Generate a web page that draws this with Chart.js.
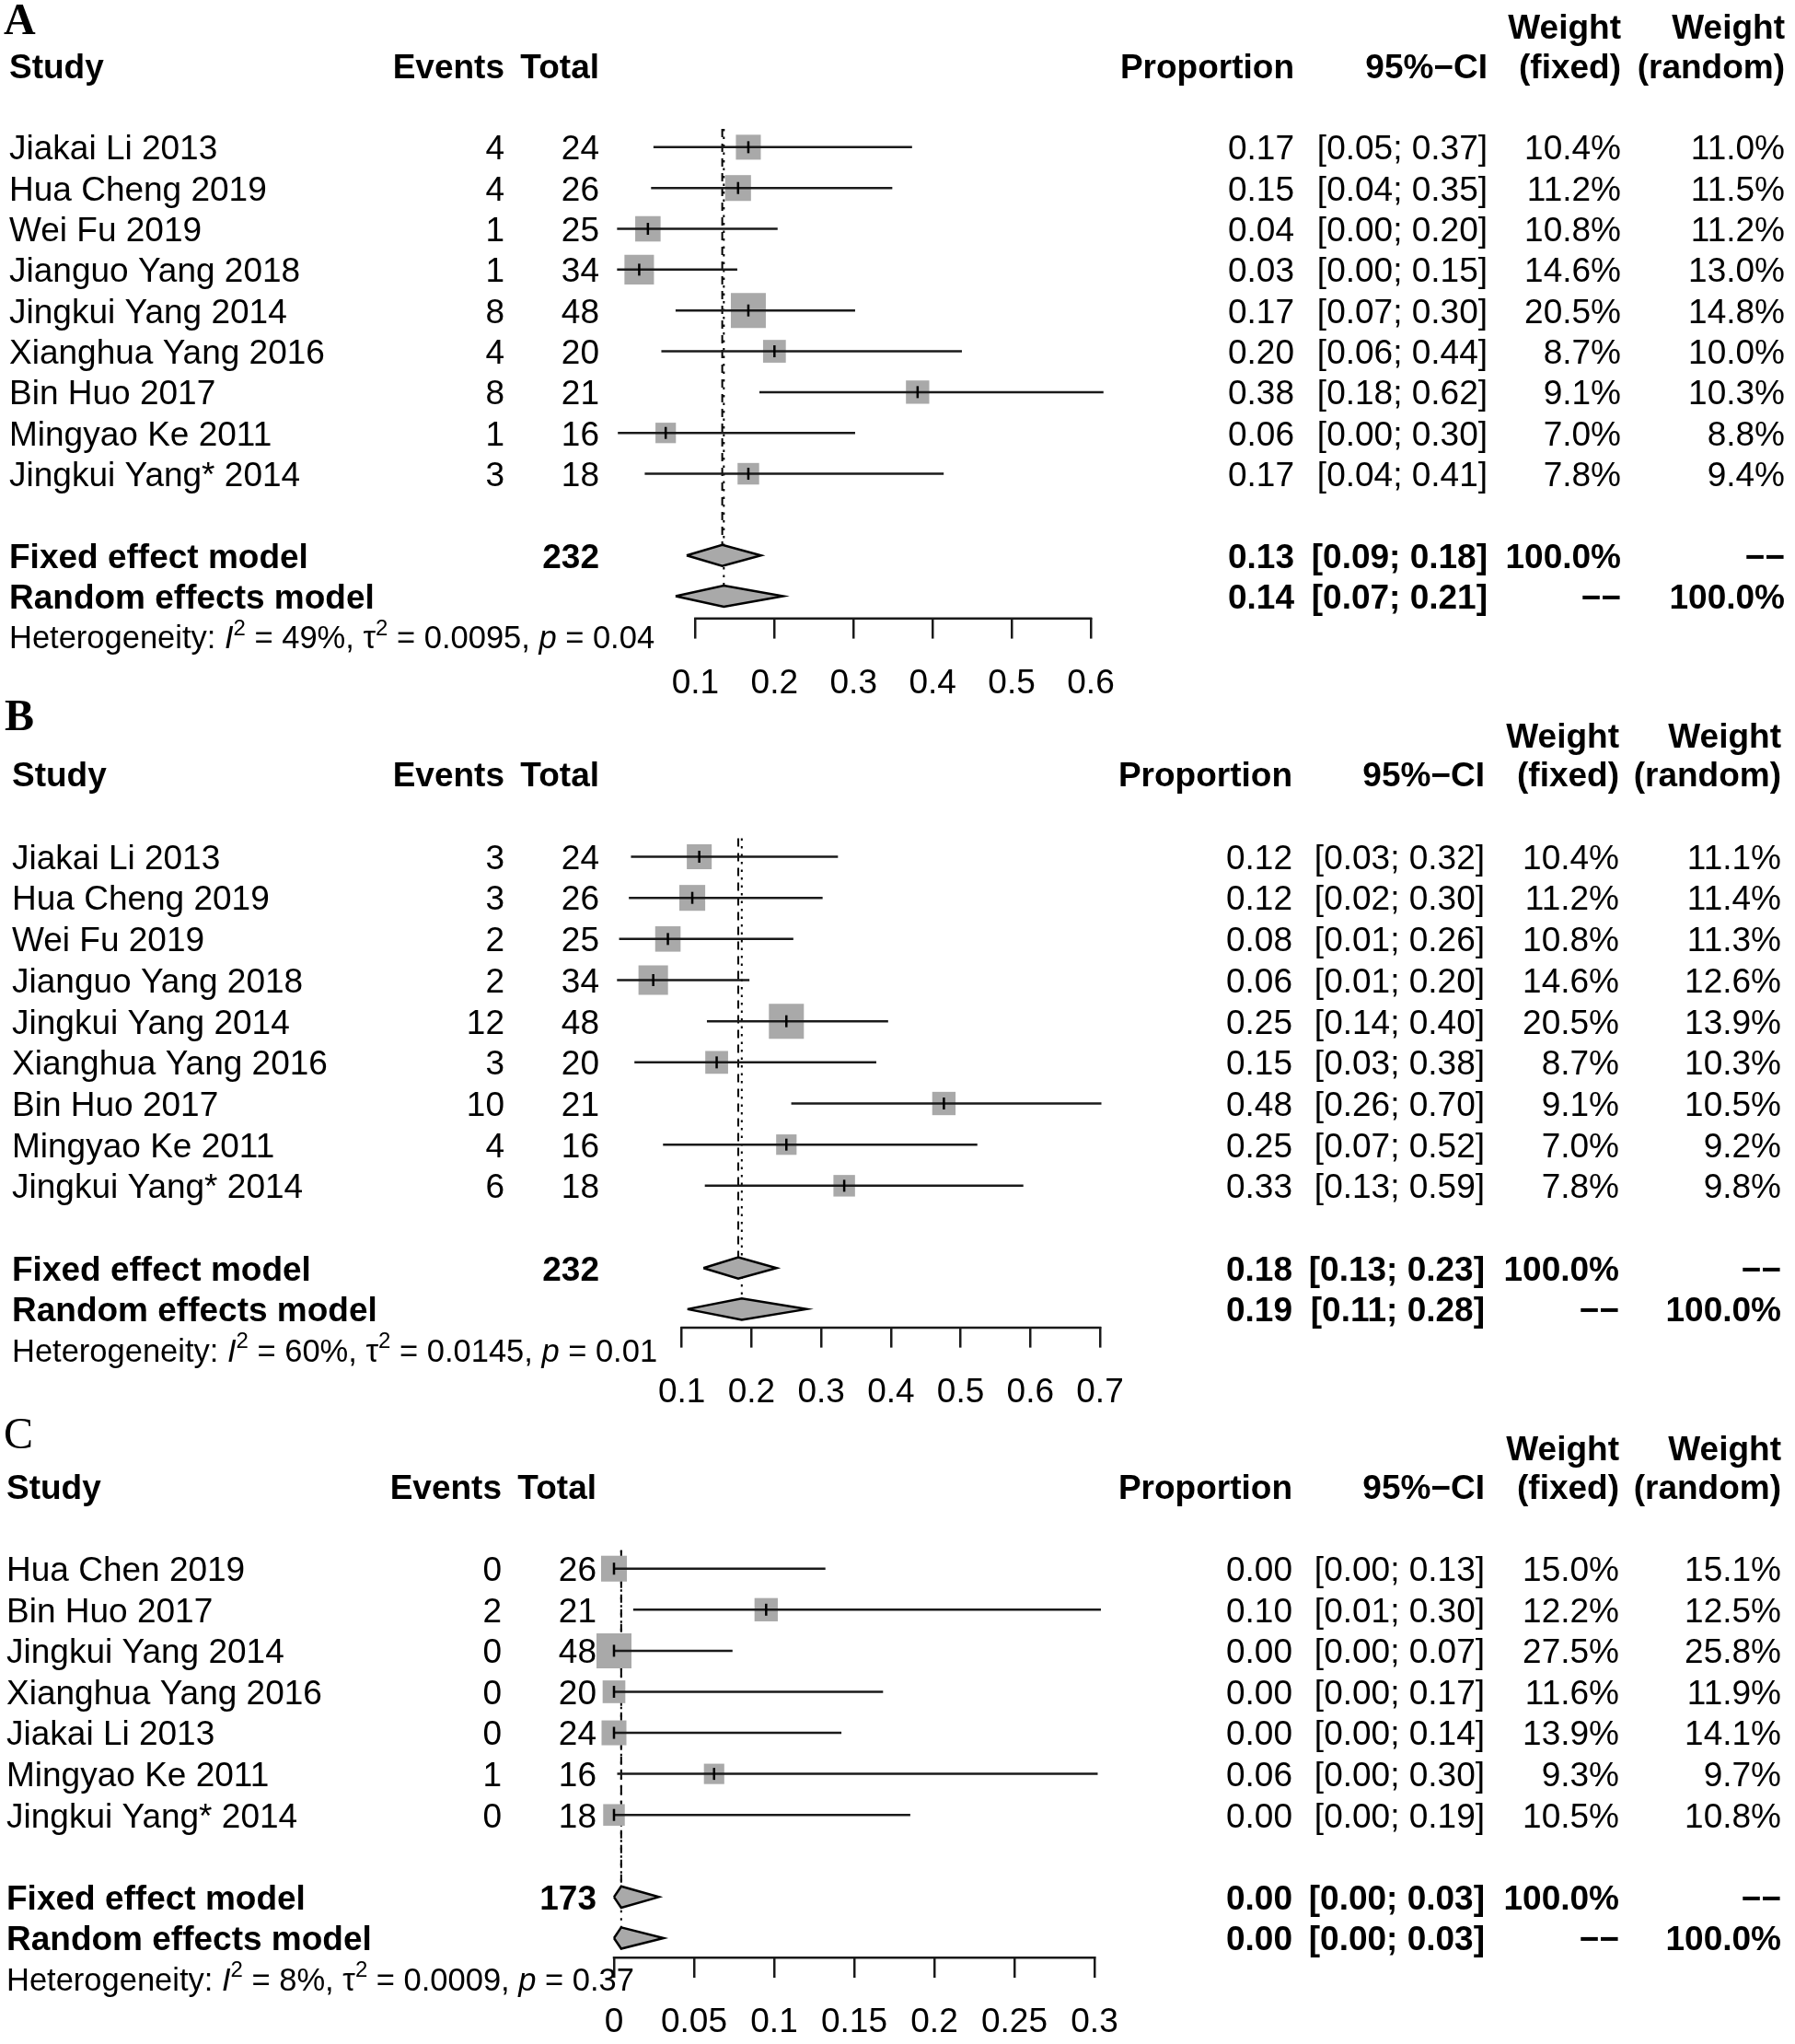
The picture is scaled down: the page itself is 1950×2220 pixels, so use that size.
<!DOCTYPE html>
<html>
<head>
<meta charset="utf-8">
<script src="https://cdn.jsdelivr.net/npm/chart.js@4.4.1/dist/chart.umd.min.js"></script>
<style>
    html, body { margin: 0; padding: 0; background: #fff; }
    #wrap { position: relative; width: 1950px; height: 2220px; overflow: hidden; }
    canvas { position: absolute; left: 0; }
</style>
</head>
<body>
<div id="wrap">
    <canvas id="panelA" width="1950" height="770" style="top:0px"></canvas>
    <canvas id="panelB" width="1950" height="800" style="top:740px"></canvas>
    <canvas id="panelC" width="1950" height="700" style="top:1520px"></canvas>
</div>
<script>
// ------------------------
// Panel A data
// ------------------------
const studiesA = ["Jiakai Li 2013", "Hua Cheng 2019", "Wei Fu 2019", "Jianguo Yang 2018", "Jingkui Yang 2014",
    "Xianghua Yang 2016", "Bin Huo 2017", "Mingyao Ke 2011", "Jingkui Yang* 2014"];
const eventsA = [4, 4, 1, 1, 8, 4, 8, 1, 3];
const totalsA = [24, 26, 25, 34, 48, 20, 21, 16, 18];
const propTextA = ["0.17", "0.15", "0.04", "0.03", "0.17", "0.20", "0.38", "0.06", "0.17"];
const ciTextA = ["[0.05; 0.37]", "[0.04; 0.35]", "[0.00; 0.20]", "[0.00; 0.15]", "[0.07; 0.30]",
    "[0.06; 0.44]", "[0.18; 0.62]", "[0.00; 0.30]", "[0.04; 0.41]"];
const estA = [0.167, 0.154, 0.040, 0.029, 0.167, 0.200, 0.381, 0.0625, 0.167];
const loA = [0.047, 0.044, 0.001, 0.001, 0.075, 0.057, 0.181, 0.002, 0.036];
const hiA = [0.374, 0.349, 0.204, 0.153, 0.302, 0.437, 0.616, 0.302, 0.414];
const wFixedA = [10.4, 11.2, 10.8, 14.6, 20.5, 8.7, 9.1, 7.0, 7.8];
const wRandomA = [11.0, 11.5, 11.2, 13.0, 14.8, 10.0, 10.3, 8.8, 9.4];
const pooledTotalA = "232";
const pooledPropA = ["0.13", "0.14"];
const pooledCiA = ["[0.09; 0.18]", "[0.07; 0.21]"];
const pooledEstA = [0.134, 0.136];
const pooledLoA = [0.089, 0.075];
const pooledHiA = [0.183, 0.211];
const hetA = ["49%", "0.0095", "0.04"];
const ticksA = [0.1, 0.2, 0.3, 0.4, 0.5, 0.6];

// ------------------------
// Panel B data
// ------------------------
const studiesB = studiesA;
const eventsB = [3, 3, 2, 2, 12, 3, 10, 4, 6];
const totalsB = [24, 26, 25, 34, 48, 20, 21, 16, 18];
const propTextB = ["0.12", "0.12", "0.08", "0.06", "0.25", "0.15", "0.48", "0.25", "0.33"];
const ciTextB = ["[0.03; 0.32]", "[0.02; 0.30]", "[0.01; 0.26]", "[0.01; 0.20]", "[0.14; 0.40]",
    "[0.03; 0.38]", "[0.26; 0.70]", "[0.07; 0.52]", "[0.13; 0.59]"];
const estB = [0.125, 0.115, 0.080, 0.059, 0.250, 0.150, 0.476, 0.250, 0.333];
const loB = [0.027, 0.024, 0.010, 0.007, 0.136, 0.032, 0.257, 0.073, 0.133];
const hiB = [0.324, 0.302, 0.260, 0.197, 0.396, 0.379, 0.702, 0.524, 0.590];
const wFixedB = [10.4, 11.2, 10.8, 14.6, 20.5, 8.7, 9.1, 7.0, 7.8];
const wRandomB = [11.1, 11.4, 11.3, 12.6, 13.9, 10.3, 10.5, 9.2, 9.8];
const pooledTotalB = "232";
const pooledPropB = ["0.18", "0.19"];
const pooledCiB = ["[0.13; 0.23]", "[0.11; 0.28]"];
const pooledEstB = [0.181, 0.186];
const pooledLoB = [0.131, 0.108];
const pooledHiB = [0.236, 0.279];
const hetB = ["60%", "0.0145", "0.01"];
const ticksB = [0.1, 0.2, 0.3, 0.4, 0.5, 0.6, 0.7];

// ------------------------
// Panel C data
// ------------------------
const studiesC = ["Hua Chen 2019", "Bin Huo 2017", "Jingkui Yang 2014", "Xianghua Yang 2016",
    "Jiakai Li 2013", "Mingyao Ke 2011", "Jingkui Yang* 2014"];
const eventsC = [0, 2, 0, 0, 0, 1, 0];
const totalsC = [26, 21, 48, 20, 24, 16, 18];
const propTextC = ["0.00", "0.10", "0.00", "0.00", "0.00", "0.06", "0.00"];
const ciTextC = ["[0.00; 0.13]", "[0.01; 0.30]", "[0.00; 0.07]", "[0.00; 0.17]",
    "[0.00; 0.14]", "[0.00; 0.30]", "[0.00; 0.19]"];
const estC = [0, 0.095, 0, 0, 0, 0.0625, 0];
const loC = [0, 0.012, 0, 0, 0, 0.002, 0];
const hiC = [0.132, 0.304, 0.074, 0.168, 0.142, 0.302, 0.185];
const wFixedC = [15.0, 12.2, 27.5, 11.6, 13.9, 9.3, 10.5];
const wRandomC = [15.1, 12.5, 25.8, 11.9, 14.1, 9.7, 10.8];
const pooledTotalC = "173";
const pooledPropC = ["0.00", "0.00"];
const pooledCiC = ["[0.00; 0.03]", "[0.00; 0.03]"];
const pooledEstC = [0.0045, 0.0045];
const pooledLoC = [0, 0];
const pooledHiC = [0.028, 0.031];
const hetC = ["8%", "0.0009", "0.37"];
const ticksC = [0, 0.05, 0.1, 0.15, 0.2, 0.25, 0.3];

// ------------------------
// Styling / layout
// ------------------------
const FONT = '"Liberation Sans", Arial, Helvetica, sans-serif';
const SERIF = '"Liberation Serif", "Times New Roman", serif';
const FS = 37;           // table text
const FS_HET = 34.5;     // heterogeneity line
const ROW_H = 44.67;
const XH = 95;           // fixed height of the x axis box
const SQ_MAX = 38;       // side of the largest square
const DH = 0.26;         // diamond half height, in rows
const GRAY = "#a9a9a9";
const INK = "#1a1a1a";
const NONE = "\u2212\u2212";

const layoutA = { top: 0, height: 770, row0: 156, axisRow: 2.52, x0Pix: 755.4, x1Pix: 1185, xMin: -0.01, xMax: 0.65,
    letter: "A", letterX: 4, letterY: 37, letterWeight: "bold",
    cols: { study: 10, events: 548, total: 651, prop: 1406, ci: 1616, wf: 1761, wr: 1939 } };
const layoutB = { top: 740, height: 800, row0: 930.5, axisRow: 2.42, x0Pix: 740.7, x1Pix: 1195, xMin: -0.01, xMax: 0.75,
    letter: "B", letterX: 5, letterY: 793, letterWeight: "bold",
    cols: { study: 13, events: 548, total: 651, prop: 1404, ci: 1613, wf: 1759, wr: 1935 } };
const layoutC = { top: 1520, height: 700, row0: 1704, axisRow: 2.45, x0Pix: 667, x1Pix: 1189, xMin: -0.02, xMax: 0.32,
    letter: "C", letterX: 4, letterY: 1573, letterWeight: "normal",
    cols: { study: 7, events: 545, total: 648, prop: 1404, ci: 1613, wf: 1759, wr: 1935 } };

function forestChart(id, d, L) {
    const n = d.studies.length;
    const rowFixed = n + 1, rowRandom = n + 2, rowHet = n + 3;
    const yMin = -3, yMax = n + L.axisRow;
    const topLocal = L.row0 - L.top + yMin * ROW_H;
    const axisLocal = L.row0 - L.top + yMax * ROW_H;
    const t0 = d.ticks[0], t1 = d.ticks[d.ticks.length - 1];
    const unit = (L.x1Pix - L.x0Pix) / (t1 - t0);
    const leftPix = L.x0Pix + (L.xMin - t0) * unit;
    const rightPix = L.x0Pix + (L.xMax - t0) * unit;
    const wMax = Math.max(...d.wFixed);

    const datasets = [];
    // estimate marks
    datasets.push({
        order: 0, clip: false, showLine: false,
        data: d.est.map((x, i) => ({ x, y: i })),
        pointStyle: "line", pointRotation: 90, pointRadius: 6.5,
        pointBorderColor: "#000", pointBorderWidth: 2.5
    });
    // confidence intervals
    d.est.forEach((_, i) => datasets.push({
        order: 1, clip: false, showLine: true,
        data: [{ x: d.lo[i], y: i }, { x: d.hi[i], y: i }],
        borderColor: INK, borderWidth: 2.5, pointRadius: 0
    }));
    // weight squares
    datasets.push({
        order: 2, clip: false, showLine: false,
        data: d.est.map((x, i) => ({ x, y: i })),
        pointStyle: "rect",
        pointRadius: ctx => SQ_MAX * Math.sqrt(d.wFixed[ctx.dataIndex] / wMax) / Math.SQRT2,
        pointBackgroundColor: GRAY, pointBorderWidth: 0
    });
    // pooled diamonds
    [rowFixed, rowRandom].forEach((r, k) => datasets.push({
        order: 1, clip: false, showLine: true, fill: "shape",
        data: [
            { x: d.pLo[k], y: r }, { x: d.pEst[k], y: r - DH },
            { x: d.pHi[k], y: r }, { x: d.pEst[k], y: r + DH }, { x: d.pLo[k], y: r }
        ],
        backgroundColor: GRAY, borderColor: "#000", borderWidth: 2.5,
        borderJoinStyle: "miter", pointRadius: 0
    }));
    // fixed (dashed) and random (dotted) reference lines
    datasets.push({
        order: 3, clip: false, showLine: true,
        data: [{ x: d.pEst[0], y: -0.45 }, { x: d.pEst[0], y: rowFixed - DH }],
        borderColor: "#000", borderWidth: 2, borderDash: [9, 7], pointRadius: 0
    });
    datasets.push({
        order: 3, clip: false, showLine: true,
        data: [{ x: d.pEst[1], y: -0.45 }, { x: d.pEst[1], y: rowRandom - DH }],
        borderColor: "#000", borderWidth: 2, borderDash: [2.5, 6], pointRadius: 0
    });

    const textPlugin = {
        id: "forestText",
        afterDraw(chart) {
            const ctx = chart.ctx;
            const ys = chart.scales.y;
            const xs = chart.scales.x;
            const c = L.cols;
            ctx.save();

            // axis line between first and last tick
            ctx.strokeStyle = INK;
            ctx.lineWidth = 2.5;
            ctx.beginPath();
            ctx.moveTo(xs.getPixelForValue(t0) - 1.25, xs.top + 1.25);
            ctx.lineTo(xs.getPixelForValue(t1) + 1.25, xs.top + 1.25);
            ctx.stroke();

            ctx.fillStyle = "#000";
            ctx.textBaseline = "alphabetic";
            ctx.font = `${L.letterWeight} 48px ${SERIF}`;
            ctx.textAlign = "left";
            ctx.fillText(L.letter, L.letterX, L.letterY - L.top);

            const put = (txt, x, r, align, weight) => {
                ctx.font = `${weight || "normal"} ${FS}px ${FONT}`;
                ctx.textAlign = align;
                ctx.fillText(String(txt), x, ys.getPixelForValue(r) + FS * 0.36);
            };

            put("Weight", c.wf, -2.95, "right", "bold");
            put("Weight", c.wr, -2.95, "right", "bold");
            put("Study", c.study, -2, "left", "bold");
            put("Events", c.events, -2, "right", "bold");
            put("Total", c.total, -2, "right", "bold");
            put("Proportion", c.prop, -2, "right", "bold");
            put("95%\u2212CI", c.ci, -2, "right", "bold");
            put("(fixed)", c.wf, -2, "right", "bold");
            put("(random)", c.wr, -2, "right", "bold");

            d.studies.forEach((s, i) => {
                put(s, c.study, i, "left");
                put(d.events[i], c.events, i, "right");
                put(d.totals[i], c.total, i, "right");
                put(d.propText[i], c.prop, i, "right");
                put(d.ciText[i], c.ci, i, "right");
                put(d.wFixed[i].toFixed(1) + "%", c.wf, i, "right");
                put(d.wRandom[i].toFixed(1) + "%", c.wr, i, "right");
            });

            put("Fixed effect model", c.study, rowFixed, "left", "bold");
            put(d.pTotal, c.total, rowFixed, "right", "bold");
            put(d.pProp[0], c.prop, rowFixed, "right", "bold");
            put(d.pCi[0], c.ci, rowFixed, "right", "bold");
            put("100.0%", c.wf, rowFixed, "right", "bold");
            put(NONE, c.wr, rowFixed, "right", "bold");

            put("Random effects model", c.study, rowRandom, "left", "bold");
            put(d.pProp[1], c.prop, rowRandom, "right", "bold");
            put(d.pCi[1], c.ci, rowRandom, "right", "bold");
            put(NONE, c.wf, rowRandom, "right", "bold");
            put("100.0%", c.wr, rowRandom, "right", "bold");

            // heterogeneity line with italics and superscripts
            const segs = [
                { t: "Heterogeneity: " }, { t: "I", it: true }, { t: "2", sup: true },
                { t: " = " + d.het[0] + ", \u03c4" }, { t: "2", sup: true },
                { t: " = " + d.het[1] + ", " }, { t: "p", it: true }, { t: " = " + d.het[2] }
            ];
            let hx = c.study;
            const hy = ys.getPixelForValue(rowHet) + FS_HET * 0.36;
            ctx.textAlign = "left";
            segs.forEach(s => {
                const size = s.sup ? Math.round(FS_HET * 0.7) : FS_HET;
                ctx.font = `${s.it ? "italic " : ""}${size}px ${FONT}`;
                ctx.fillText(s.t, hx, s.sup ? hy - FS_HET * 0.42 : hy);
                hx += ctx.measureText(s.t).width;
            });
            ctx.restore();
        }
    };

    return new Chart(document.getElementById(id), {
        type: "scatter",
        data: { datasets },
        options: {
            responsive: false,
            animation: false,
            events: [],
            layout: {
                padding: { left: leftPix, right: 1950 - rightPix, top: topLocal, bottom: Math.max(0, L.height - axisLocal - XH) }
            },
            plugins: { legend: { display: false }, tooltip: { enabled: false } },
            scales: {
                x: {
                    type: "linear", position: "bottom", min: L.xMin, max: L.xMax,
                    afterBuildTicks: s => { s.ticks = d.ticks.map(v => ({ value: v })); },
                    afterFit: s => { s.height = XH; },
                    grid: { drawOnChartArea: false, drawTicks: true, tickLength: 23, color: INK, lineWidth: 2.5 },
                    border: { display: false },
                    ticks: {
                        color: "#000", font: { family: FONT, size: FS }, padding: 27,
                        maxRotation: 0, autoSkip: false, callback: v => String(v)
                    }
                },
                y: { type: "linear", display: false, min: yMin, max: yMax, reverse: true }
            }
        },
        plugins: [textPlugin]
    });
}

forestChart("panelA", {
    studies: studiesA, events: eventsA, totals: totalsA, propText: propTextA, ciText: ciTextA,
    est: estA, lo: loA, hi: hiA, wFixed: wFixedA, wRandom: wRandomA,
    pTotal: pooledTotalA, pProp: pooledPropA, pCi: pooledCiA,
    pEst: pooledEstA, pLo: pooledLoA, pHi: pooledHiA, het: hetA, ticks: ticksA
}, layoutA);

forestChart("panelB", {
    studies: studiesB, events: eventsB, totals: totalsB, propText: propTextB, ciText: ciTextB,
    est: estB, lo: loB, hi: hiB, wFixed: wFixedB, wRandom: wRandomB,
    pTotal: pooledTotalB, pProp: pooledPropB, pCi: pooledCiB,
    pEst: pooledEstB, pLo: pooledLoB, pHi: pooledHiB, het: hetB, ticks: ticksB
}, layoutB);

forestChart("panelC", {
    studies: studiesC, events: eventsC, totals: totalsC, propText: propTextC, ciText: ciTextC,
    est: estC, lo: loC, hi: hiC, wFixed: wFixedC, wRandom: wRandomC,
    pTotal: pooledTotalC, pProp: pooledPropC, pCi: pooledCiC,
    pEst: pooledEstC, pLo: pooledLoC, pHi: pooledHiC, het: hetC, ticks: ticksC
}, layoutC);
</script>
</body>
</html>
